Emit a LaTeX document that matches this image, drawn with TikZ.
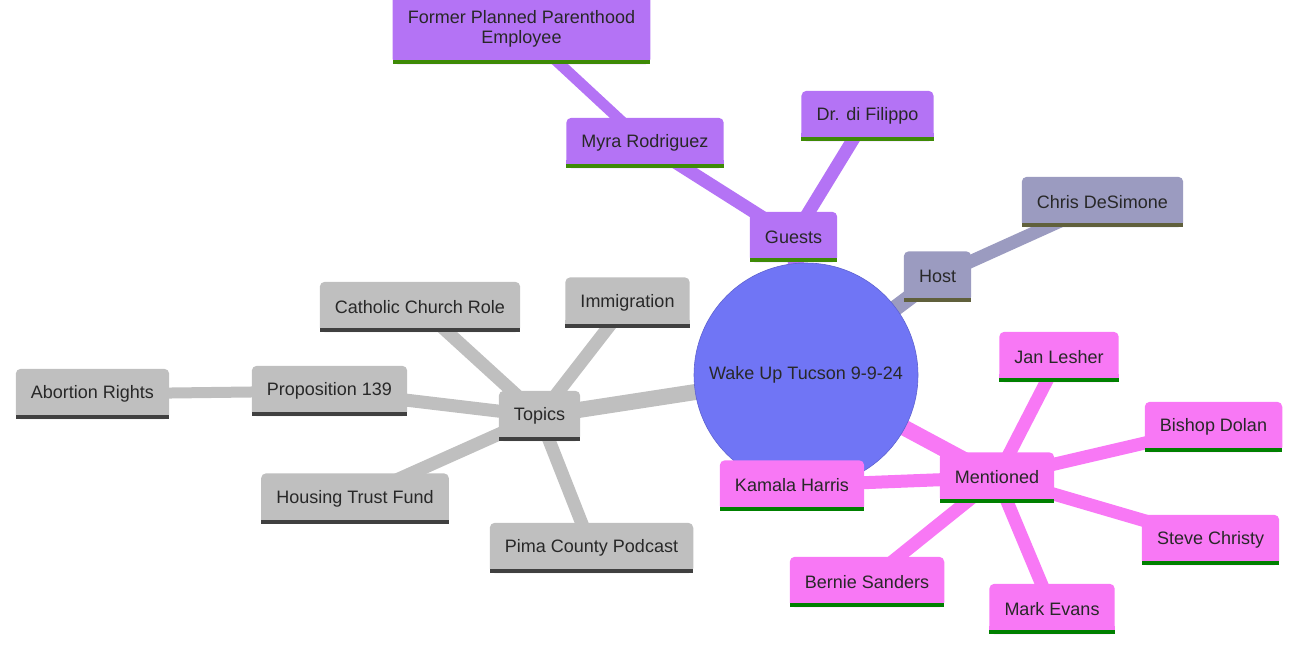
\documentclass[tikz,border=0pt]{standalone}
\usepackage{fontspec}
\setmainfont{Liberation Sans}
\usetikzlibrary{backgrounds}

\definecolor{cguest}{RGB}{180,115,245}
\definecolor{cguestln}{RGB}{62,138,6}
\definecolor{chost}{RGB}{155,155,192}
\definecolor{chostln}{RGB}{96,96,60}
\definecolor{ctopic}{RGB}{191,191,191}
\definecolor{ctopicln}{RGB}{64,64,64}
\definecolor{cment}{RGB}{248,120,245}
\definecolor{cmentln}{RGB}{0,128,0}
\definecolor{croot}{RGB}{112,117,245}
\definecolor{ctxt}{RGB}{40,40,40}

\begin{document}
\begin{tikzpicture}[x=1pt, y=-1pt,
    font=\fontsize{18}{20}\selectfont,
    mmbox/.style 2 args={rectangle, text=ctxt,
      minimum height=50pt, inner xsep=15pt, inner ysep=0pt,
      append after command={\pgfextra{
        \fill[#1, rounded corners=5pt] (\tikzlastnode.south west) rectangle (\tikzlastnode.north east);
        \fill[#1, sharp corners] ([yshift=8pt]\tikzlastnode.south west) rectangle (\tikzlastnode.south east);
        \fill[#2, sharp corners] ([yshift=4pt]\tikzlastnode.south west) rectangle (\tikzlastnode.south east);}}},
    guest/.style={mmbox={cguest}{cguestln}},
    host/.style={mmbox={chost}{chostln}},
    topic/.style={mmbox={ctopic}{ctopicln}},
    ment/.style={mmbox={cment}{cmentln}},
    rootnode/.style={circle, fill=croot, draw=croot!85!black, line width=0.6pt,
      minimum size=224pt, inner sep=0pt, text=ctxt},
    link/.style={line width=#1}
]
\useasboundingbox (0,0) rectangle (1300,650);

% root
\node[rootnode] (root) at (806,375) {Wake Up Tucson 9-9-24};

% guests
\node[guest] (guests) at (793.5,237) {Guests};
\node[guest] (myra) at (645,143) {Myra Rodriguez};
\node[guest, minimum height=71pt, align=center] (former) at (521.5,28.5) {Former Planned Parenthood\\Employee};
\node[guest] (filippo) at (867.5,116) {Dr. di Filippo};

% host
\node[host] (host) at (937.5,276.5) {Host};
\node[host] (chris) at (1102.5,202) {Chris DeSimone};

% topics
\node[topic] (topics) at (539.5,416) {Topics};
\node[topic] (catholic) at (420,307) {Catholic Church Role};
\node[topic] (immig) at (627.5,302.5) {Immigration};
\node[topic] (prop) at (329.5,391) {Proposition 139};
\node[topic] (abortion) at (92.5,394) {Abortion Rights};
\node[topic] (housing) at (355,498.5) {Housing Trust Fund};
\node[topic] (pima) at (591.5,548) {Pima County Podcast};

% mentioned
\node[ment] (mentioned) at (997,477.5) {Mentioned};
\node[ment] (jan) at (1059,357) {Jan Lesher};
\node[ment] (bishop) at (1213.5,427) {Bishop Dolan};
\node[ment] (kamala) at (792,485.5) {Kamala Harris};
\node[ment] (steve) at (1210.5,540) {Steve Christy};
\node[ment] (bernie) at (867,582) {Bernie Sanders};
\node[ment] (mark) at (1052,609) {Mark Evans};

\begin{scope}[on background layer]
\draw[link=16, cguest] (root.center) -- (guests.center);
\draw[link=13, cguest] (guests.center) -- (myra.center);
\draw[link=13, cguest] (guests.center) -- (filippo.center);
\draw[link=11, cguest] (myra.center) -- (former.center);
\draw[link=16, chost] (root.center) -- (host.center);
\draw[link=13, chost] (host.center) -- (chris.center);
\draw[link=16, ctopic] (root.center) -- (topics.center);
\foreach \n in {catholic, immig, prop, housing, pima}
  \draw[link=13, ctopic] (topics.center) -- (\n.center);
\draw[link=11, ctopic] (prop.center) -- (abortion.center);
\draw[link=16, cment] (root.center) -- (mentioned.center);
\foreach \n in {jan, bishop, kamala, steve, bernie, mark}
  \draw[link=13, cment] (mentioned.center) -- (\n.center);
\end{scope}
\end{tikzpicture}
\end{document}
